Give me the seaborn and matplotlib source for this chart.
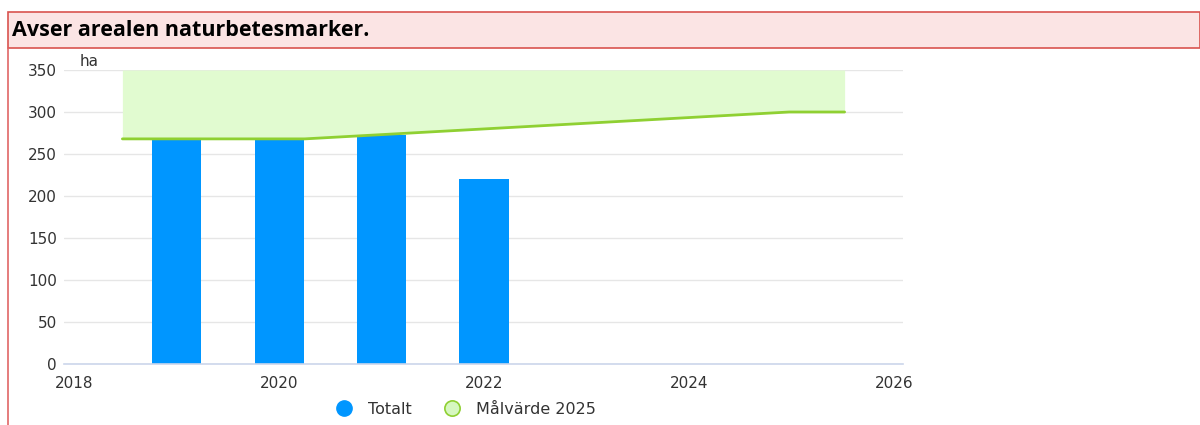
import matplotlib
matplotlib.use("Agg")
import matplotlib.pyplot as plt
import seaborn as sns
import pandas as pd
from matplotlib.patches import Rectangle
from matplotlib.lines import Line2D

years = [2019, 2020, 2021, 2022]
totalt = [267, 267, 273, 220]
target_x = [2018.47, 2020.25, 2024.98, 2025.52]
target_y = [268, 268, 300, 300]
target_top = 350
title = "Avser arealen naturbetesmarker."
unit = "ha"

sns.set_theme(style="white")
plt.rcParams['font.family'] = ['DejaVu Sans']

fig = plt.figure(figsize=(12, 4.25), dpi=100)
ax = fig.add_axes([64/1200, 1-364/425, (903-64)/1200, (364-70)/425])

# target band
ax.fill_between(target_x, target_y, target_top, color="#e1fbd0", zorder=1, linewidth=0)
sns.lineplot(x=target_x, y=target_y, ax=ax, color="#8fd032", linewidth=2, zorder=3)

df = pd.DataFrame({"year": years, "value": totalt})
sns.barplot(data=df, x="year", y="value", ax=ax, native_scale=True, width=0.48,
            color="#0096ff", saturation=1, zorder=2, linewidth=0)

ax.set_xlim(2017.9, 2026.09)
ax.set_ylim(0, 350)
ax.set_yticks(range(0, 351, 50))
ax.set_xticks(range(2018, 2027, 2))
ax.yaxis.grid(True, color="#e6e6e6", linewidth=1, zorder=0)
ax.set_axisbelow(True)
ax.set_xlabel("")
ax.set_ylabel("")
for s in ["top", "right", "left"]:
    ax.spines[s].set_visible(False)
ax.spines["bottom"].set_color("#ccd6eb")
ax.spines["bottom"].set_linewidth(1.2)
ax.tick_params(axis="x", colors="#ccd6eb", length=8, width=1, labelcolor="#333333", labelsize=11, pad=1)
ax.tick_params(axis="y", length=0, labelcolor="#333333", labelsize=11, pad=5)

fig.text(80/1200, 1-61/425, unit, fontsize=11, color="#333333", va="center", ha="left")

# title box and borders
fig.patches.append(Rectangle((8/1200, 1-48/425), (1200-8)/1200, 36/425, transform=fig.transFigure,
                             facecolor="#fbe4e4", edgecolor="#d9534f", linewidth=1.2, zorder=0))
fig.add_artist(Line2D([8/1200, 8/1200], [0, 1-48/425], transform=fig.transFigure, color="#e06666", linewidth=1.2))
fig.text(12/1200, 1-30/425, title, fontsize=15.5, fontweight="bold", color="#000000",
         va="center", ha="left", family=["Open Sans", "DejaVu Sans"])

handles = [Line2D([], [], marker="o", linestyle="", markersize=11, markerfacecolor="#0096ff", markeredgecolor="#0096ff"),
           Line2D([], [], marker="o", linestyle="", markersize=11, markerfacecolor="#d6f7c0", markeredgecolor="#8fd032", markeredgewidth=1.2)]
fig.legend(handles, ["Totalt", "Målvärde 2025"], loc="center", bbox_to_anchor=(462/1200, 1-409/425),
           ncol=2, frameon=False, fontsize=11.5, handletextpad=0.5, columnspacing=1.5, labelcolor="#333333")

fig.savefig("out.png", dpi=100)
